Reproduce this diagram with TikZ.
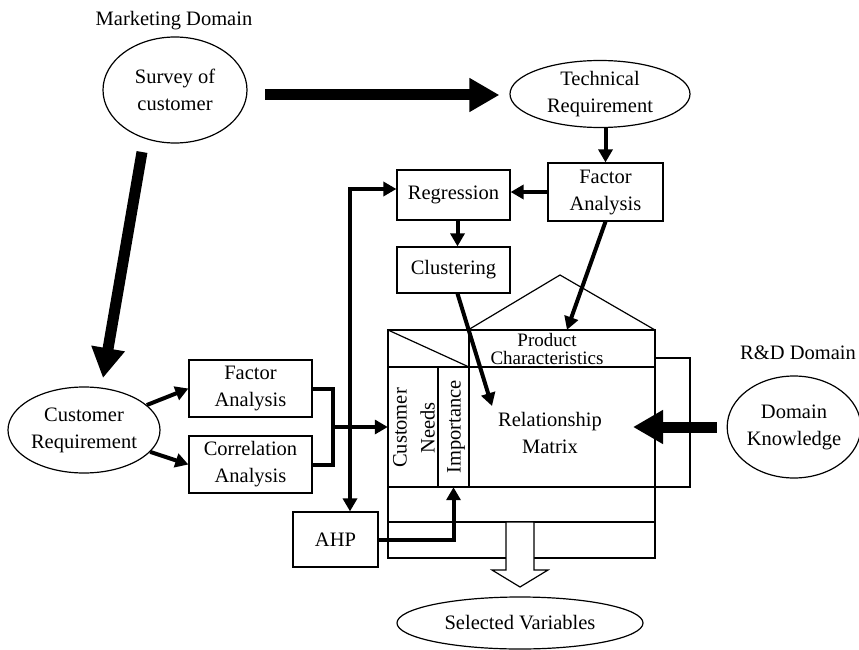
\documentclass[tikz,border=0pt]{standalone}
\usepackage{fontspec}
\setmainfont{Liberation Serif}
\usetikzlibrary{shapes.geometric,arrows.meta}
\begin{document}
\begin{tikzpicture}[x=1pt,y=-1pt,
  every node/.style={font=\fontsize{20.5}{27}\selectfont, align=center, inner sep=0pt},
  thin/.style={line width=1.2pt},
  ell/.style={ellipse, draw, line width=1.2pt},
  box/.style={draw, line width=1.2pt},
  conn/.style={line width=4pt, -{Triangle[length=13pt,width=14pt]}},
  dconn/.style={line width=4pt, {Triangle[length=13pt,width=14pt]}-{Triangle[length=13pt,width=14pt]}},
  bar/.style={line width=4pt},
  big/.style={line width=11pt, -{Triangle[length=30pt,width=32pt]}}
]
\useasboundingbox (0,0) rectangle (859,650);

% nodes
\node (mkt) at (174,21) {Marketing Domain};
\node[ell, minimum width=144pt, minimum height=106pt] (survey) at (175,90) {Survey of\\customer};
\node[ell, minimum width=180pt, minimum height=67pt] (tech) at (600,94) {Technical\\Requirement};
\node[box, minimum width=115pt, minimum height=58pt] (fa2) at (605.5,192) {Factor\\Analysis};
\node[box, minimum width=113pt, minimum height=50pt] (reg) at (453.5,195) {Regression};
\node[box, minimum width=113pt, minimum height=46pt] (clu) at (453.5,270) {Clustering};
\node[ell, minimum width=152pt, minimum height=86pt] (cr) at (84,430) {Customer\\Requirement};
\node[box, minimum width=123pt, minimum height=57pt] (fa1) at (250.5,388.5) {Factor\\Analysis};
\node[box, minimum width=123pt, minimum height=57pt] (corr) at (250.5,464.5) {Correlation\\Analysis};
\node[box, minimum width=85pt, minimum height=55pt] (ahp) at (335.5,539.5) {AHP};
\node (rnd) at (798,353) {R\&D Domain};
\node[ell, minimum width=132pt, minimum height=102pt] (dk) at (794,427) {Domain\\Knowledge};
\node[ell, minimum width=246pt, minimum height=52pt] (sel) at (520,623) {Selected Variables};

% house of quality
\draw[thin] (468,330) -- (560,275) -- (655,330);
\draw[thin] (388,330) rectangle (655,558);
\draw[thin] (388,367) -- (655,367);
\draw[thin] (388,330) -- (469,367);
\draw[thin] (469,330) -- (469,487);
\draw[thin] (438,367) -- (438,487);
\draw[thin] (388,487) -- (655,487);
\draw[thin] (655,358) -| (690,487) -- (655,487);
\draw[thin] (388,522) -- (655,522);
\node[minimum width=50pt, minimum height=120pt] (cn) at (413,427) {};
\node[minimum width=31pt, minimum height=120pt] (imp) at (453.5,427) {};
\node[minimum width=186pt, minimum height=37pt] (pc) at (562,348.5) {};
\node[font=\fontsize{19}{18}\selectfont] (pctext) at (547,349) {Product\\Characteristics};
\node[rotate=90, font=\fontsize{20.5}{28}\selectfont] (cntext) at (414,428) {Customer\\Needs};
\node[rotate=90] (imptext) at (456,427) {Importance};
\node (rmtext) at (550,433) {Relationship\\Matrix};
\coordinate (rmtip) at (492,406);

% hollow output arrow
\draw[thin, fill=white] (506,522) -- (534,522) -- (534,570) -- (548,570) -- (520,587) -- (492,570) -- (506,570) -- cycle;

% connectors
\draw[conn] (tech.south -| fa2.north) -- (fa2.north);
\draw[conn] (fa2.west) -- (fa2.west -| reg.east);
\draw[conn] ([xshift=4pt]reg.south) -- ([xshift=4pt]clu.north);
\draw[conn] ([xshift=4pt]clu.south) -- (rmtip);
\draw[conn] (fa2.south) -- ([xshift=5pt]pc.north);
\draw[conn] (cr) -- (fa1.west);
\draw[conn] (cr) -- (corr.west);
\draw[bar] (fa1.east) -- ++(20,0) |- (corr.east);
\coordinate (br) at (332,427);
\draw[conn] (br) -- (cn.west);
\draw[dconn] ([yshift=6pt]reg.west) -| ([xshift=14.5pt]ahp.north);
\draw[conn] (ahp.east) -| (imp.south);

% big arrows
\coordinate (s1) at (265,95);
\draw[big, shorten >=10pt] (s1) -- (s1 -| tech.west);
\coordinate (s2) at (142,152);
\coordinate (t2) at (103,378);
\draw[big] (s2) -- (t2);
\coordinate (t3) at (633,427);
\draw[big, shorten <=10pt] (dk.west) -- (t3);
\end{tikzpicture}
\end{document}
